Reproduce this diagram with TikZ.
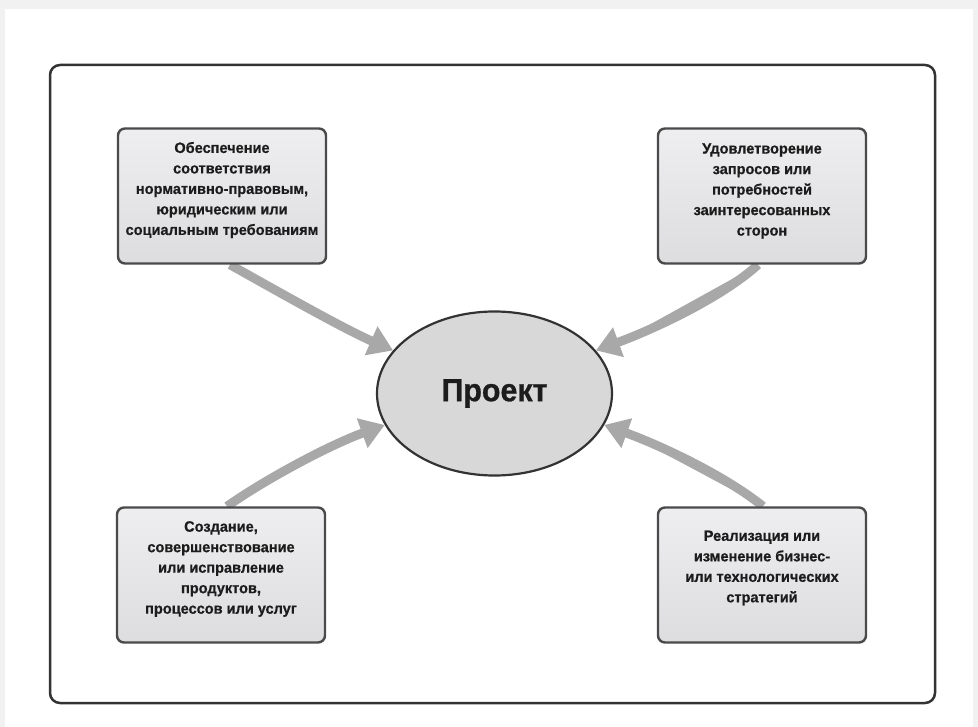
\documentclass[tikz,border=0pt]{standalone}
\usepackage{fontspec}
\setmainfont{Liberation Sans}[FakeStretch=0.97, FakeBold=0.6]
\newfontfamily\ellfont{Liberation Sans}[FakeStretch=0.95, FakeBold=0.8]
\usetikzlibrary{arrows.meta,shapes.geometric}
\definecolor{bggray}{HTML}{F1F1F1}
\definecolor{framecol}{HTML}{333333}
\definecolor{boxtop}{HTML}{EEEEF0}
\definecolor{boxbot}{HTML}{DDDDDF}
\definecolor{boxline}{HTML}{4A4A4A}
\definecolor{arrowgray}{HTML}{A8A8A8}
\definecolor{ellfill}{HTML}{D8D8D8}
\definecolor{txtcol}{HTML}{1C1C1C}
\pgfdeclarelayer{back}
\pgfdeclarelayer{arrowlayer}
\pgfsetlayers{back,arrowlayer,main}
\tikzset{
  boxst/.style={draw=boxline, line width=2.4pt, top color=boxtop, bottom color=boxbot,
    rounded corners=7pt, minimum width=208pt, minimum height=135pt, inner sep=0pt},
  txtst/.style={align=center, text=txtcol, font=\bfseries\fontsize{15}{20.5}\selectfont, inner sep=0pt},
  bigarrow/.style={draw=arrowgray, line width=9pt, -{Triangle[length=24pt,width=30pt]}, fill=arrowgray}
}
\begin{document}
\begin{tikzpicture}[x=1pt,y=-1pt]
\begin{pgfonlayer}{back}
\fill[bggray] (0,0) rectangle (978,727);
\fill[white] (5,9) rectangle (973,727);
\end{pgfonlayer}
\useasboundingbox (0,0) rectangle (978,727);

\node[draw=framecol, line width=2.5pt, rounded corners=10pt, minimum width=885pt, minimum height=638pt] (frame) at (492.5,384) {};

\node[boxst] (tl) at (222,196) {};
\node[boxst] (tr) at (762,196) {};
\node[boxst] (bl) at (221,575) {};
\node[boxst] (br) at (762,575) {};

\node[txtst] (tlt) at (222,190) {Обеспечение\\соответствия\\нормативно-правовым,\\юридическим или\\социальным требованиям};
\node[txtst] (trt) at (762,191) {Удовлетворение\\запросов или\\потребностей\\заинтересованных\\сторон};
\node[txtst] (blt) at (221,569) {Создание,\\совершенствование\\или исправление\\продуктов,\\процессов или услуг};
\node[txtst] (brt) at (762,568) {Реализация или\\изменение бизнес-\\или технологических\\стратегий};

\node[ellipse, draw=framecol, line width=2.2pt, fill=ellfill, minimum width=235pt, minimum height=164pt,
  inner sep=0pt, text=txtcol, font=\ellfont\bfseries\fontsize{32}{36}\selectfont] (p) at (494.5,393.5) {Проект};

\begin{pgfonlayer}{arrowlayer}
\draw[bigarrow] ([xshift=8pt]tl.south) .. controls +(50,28) and +(-50,-22) .. (p.157);
\draw[bigarrow] ([xshift=-4pt]tr.south) .. controls +(-35,32) and +(60,-22) .. (p.23);
\draw[bigarrow] ([xshift=6pt]bl.north) .. controls +(40,-28) and +(-55,20) .. (p.196);
\draw[bigarrow] ([xshift=1pt]br.north) .. controls +(-40,-32) and +(55,20) .. (p.344);
\end{pgfonlayer}
\end{tikzpicture}
\end{document}
